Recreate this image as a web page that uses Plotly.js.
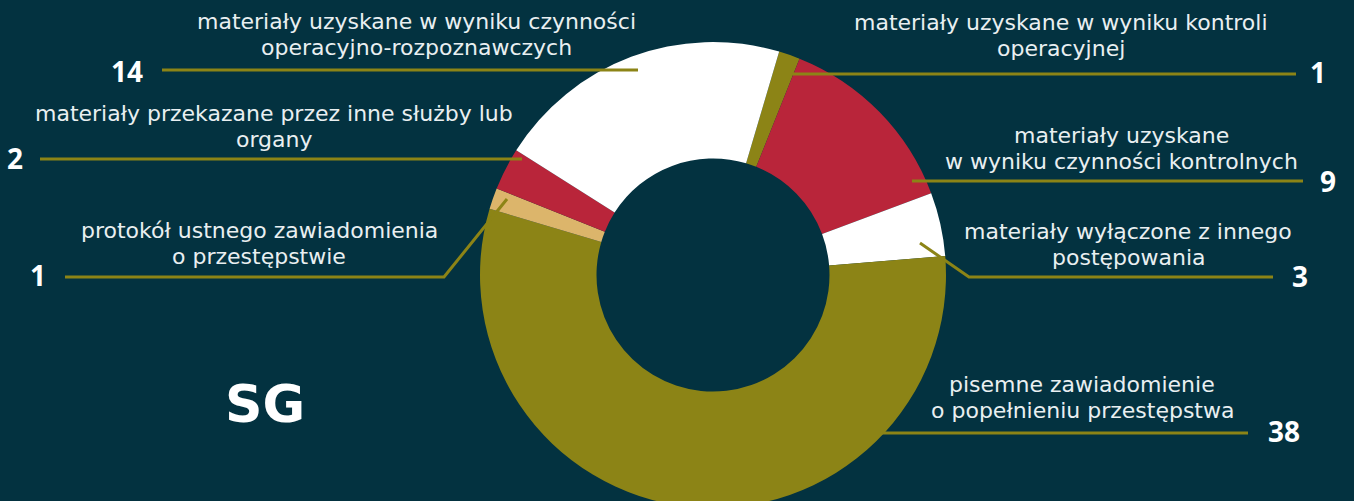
<!DOCTYPE html>
<html>
<head>
<meta charset="utf-8">
<script src="https://cdn.plot.ly/plotly-3.0.1.min.js"></script>
<style>
html, body { margin: 0; padding: 0; overflow: hidden; background: #033240; }
#chart { width: 1354px; height: 520px; }
</style>
</head>
<body>
<div id="chart"></div>
<script>
// categories, clockwise from the top of the ring
let categories = [
    "materiały uzyskane w wyniku kontroli<br>operacyjnej",
    "materiały uzyskane<br>w wyniku czynności kontrolnych",
    "materiały wyłączone z innego<br>postępowania",
    "pisemne zawiadomienie<br>o popełnieniu przestępstwa",
    "protokół ustnego zawiadomienia<br>o przestępstwie",
    "materiały przekazane przez inne służby lub<br>organy",
    "materiały uzyskane w wyniku czynności<br>operacyjno-rozpoznawczych"
];

// number of cases for each category
let counts = [1, 9, 3, 38, 1, 2, 14];

let chartTitle = "SG";

// colours
let olive = "#8c8416";
let red = "#b9253a";
let white = "#ffffff";
let tan = "#dcb56b";
let bg = "#033240";
let sliceColors = [olive, red, white, olive, tan, red, white];

// the figure is a bit taller than the window so the ring runs off the bottom
let W = 1354, H = 520;
let fx = function(px) { return px / W; };
let fy = function(py) { return 1 - py / H; };

// where each label goes (pixels): text centre x/y, number x/y, leader line
let labelPos = [
    {tx: 1061, ty: 35.5, nx: 1318, ny: 72, line: [[793, 74], [1296, 74]]},
    {tx: 1121, ty: 148.5, nx: 1328, ny: 181, line: [[912, 181], [1303, 181]]},
    {tx: 1128, ty: 244.5, nx: 1300, ny: 276, line: [[920, 243], [969, 277], [1273, 277]]},
    {tx: 1082, ty: 397.5, nx: 1284, ny: 431, line: [[880, 433], [1248, 433]]},
    {tx: 259, ty: 243.5, nx: 38, ny: 275, line: [[65, 277], [444, 277], [507, 199]]},
    {tx: 274, ty: 126.5, nx: 15, ny: 158, line: [[40, 159], [522, 159]]},
    {tx: 416, ty: 34.5, nx: 127, ny: 71, line: [[162, 70], [638, 70]]}
];
let lineGap = 26;

// pie trace
let trace1 = {
    type: "pie",
    labels: categories,
    values: counts,
    sort: false,
    direction: "clockwise",
    rotation: 16.5,
    hole: 0.5,
    marker: {colors: sliceColors, line: {width: 0}},
    textinfo: "none",
    hoverinfo: "none",
    showlegend: false,
    domain: {x: [fx(480), fx(946)], y: [fy(508), fy(42)]}
};

let annotations = [];
let shapes = [];

categories.forEach(function(cat, i) {
    let p = labelPos[i];
    let rows = cat.split("<br>");
    rows.forEach(function(txt, k) {
        annotations.push({
            xref: "paper", yref: "paper",
            x: fx(p.tx), y: fy(p.ty + (k - (rows.length - 1) / 2) * lineGap),
            xanchor: "center", yanchor: "middle",
            text: txt, showarrow: false,
            borderpad: 0, borderwidth: 0,
            font: {family: "DejaVu Sans", size: 22, color: "#e9eff1"}
        });
    });
    annotations.push({
        xref: "paper", yref: "paper",
        x: fx(p.nx), y: fy(p.ny),
        xanchor: "center", yanchor: "middle",
        text: String(counts[i]), showarrow: false,
        borderpad: 0, borderwidth: 0,
        font: {family: "Open Sans", size: 28, weight: 700, color: "#ffffff"}
    });
    let path = p.line.map(function(pt, k) {
        return (k === 0 ? "M" : "L") + fx(pt[0]) + "," + fy(pt[1]);
    }).join(" ");
    shapes.push({
        type: "path", xref: "paper", yref: "paper",
        path: path,
        line: {color: olive, width: 3}
    });
});

// big SG label
annotations.push({
    xref: "paper", yref: "paper",
    x: fx(265), y: fy(404),
    xanchor: "center", yanchor: "middle",
    text: chartTitle, showarrow: false,
    font: {family: "DejaVu Sans", size: 52, weight: 700, color: "#ffffff"}
});

let layout = {
    width: W,
    height: H,
    margin: {l: 0, r: 0, t: 0, b: 0},
    paper_bgcolor: bg,
    plot_bgcolor: bg,
    showlegend: false,
    annotations: annotations,
    shapes: shapes
};

Plotly.newPlot("chart", [trace1], layout, {displayModeBar: false, staticPlot: true});
</script>
</body>
</html>
